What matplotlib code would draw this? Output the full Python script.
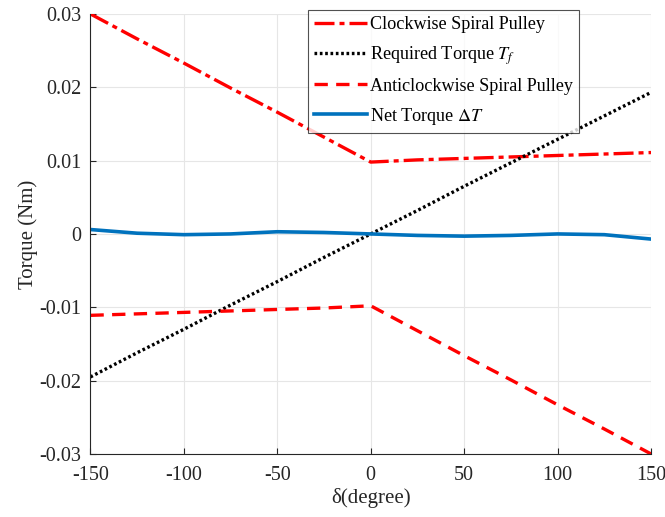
import matplotlib.pyplot as plt
import numpy as np

plt.rcParams['font.family'] = ['Liberation Serif', 'DejaVu Serif']
plt.rcParams['mathtext.fontset'] = 'stix'
plt.rcParams['axes.unicode_minus'] = False

# data
delta = [-150, -125, -100, -75, -50, -25, 0, 25, 50, 75, 100, 125, 150]
cw_torque = [0.0300, 0.0266, 0.0233, 0.0199, 0.0166, 0.0132, 0.0098,
             0.0101, 0.0103, 0.0105, 0.0107, 0.0109, 0.0111]
acw_torque = [-0.0111, -0.0109, -0.0107, -0.0105, -0.0103, -0.0101, -0.0098,
              -0.0132, -0.0166, -0.0199, -0.0233, -0.0266, -0.0300]
req_torque = [-0.0195, -0.0162, -0.0130, -0.0097, -0.0065, -0.0032, 0.0,
              0.0032, 0.0065, 0.0097, 0.0129, 0.0161, 0.0193]
net_torque = [0.0006, 0.0001, -0.0001, 0.0000, 0.0003, 0.0002, 0.0000,
              -0.0002, -0.0003, -0.0002, 0.0000, -0.0001, -0.0007]

xticks = [-150, -100, -50, 0, 50, 100, 150]
yticks = [-0.03, -0.02, -0.01, 0, 0.01, 0.02, 0.03]
ytick_labels = ['-0.03', '-0.02', '-0.01', '0', '0.01', '0.02', '0.03']

fig = plt.figure(figsize=(6.65, 5.17), dpi=100)
ax = fig.add_axes([0.136, 0.122, 0.843, 0.851])

ax.plot(delta, cw_torque, color='red', lw=2.4, linestyle=(0, (6, 1.5, 1.5, 1.5)),
        label='Clockwise Spiral Pulley')
ax.plot(delta, req_torque, color='black', lw=2.4, linestyle=(0, (0.8, 0.8)),
        label='Required Torque $T_f$')
ax.plot(delta, acw_torque, color='red', lw=2.4, linestyle=(0, (4, 2.5)),
        label='Anticlockwise Spiral Pulley')
ax.plot(delta, net_torque, color='#0072BD', lw=2.6, solid_joinstyle='round',
        label=r'Net Torque $\mathit{\Delta T}$')

ax.set_xlim(-150, 150)
ax.set_ylim(-0.03, 0.03)
ax.set_xticks(xticks)
ax.set_yticks(yticks)
ax.set_yticklabels(ytick_labels)
ax.tick_params(direction='in', labelsize=14.5, length=4.5, width=0.8, colors='#262626')
ax.tick_params(axis='y', pad=6.5)
ax.tick_params(axis='x', pad=9)
ax.grid(True, color='#e6e6e6', linewidth=0.8)
ax.set_axisbelow(True)
for side in ['top', 'right']:
    ax.spines[side].set_visible(False)
for side in ['left', 'bottom']:
    ax.spines[side].set_color('#262626')

ax.set_xlabel('δ(degree)', fontsize=15, color='#262626', labelpad=2)
ax.set_ylabel('Torque (Nm)', fontsize=15, color='#262626', labelpad=1)

leg = ax.legend(loc='upper left', bbox_to_anchor=(0.463, 0.981), bbox_transform=fig.transFigure,
                fontsize=13.1, frameon=True, fancybox=False, edgecolor='#262626',
                handlelength=2.9, handletextpad=0.15, borderpad=0.35, labelspacing=0.6,
                borderaxespad=0)
leg.get_frame().set_linewidth(0.8)

fig.savefig('out.png', dpi=100)
